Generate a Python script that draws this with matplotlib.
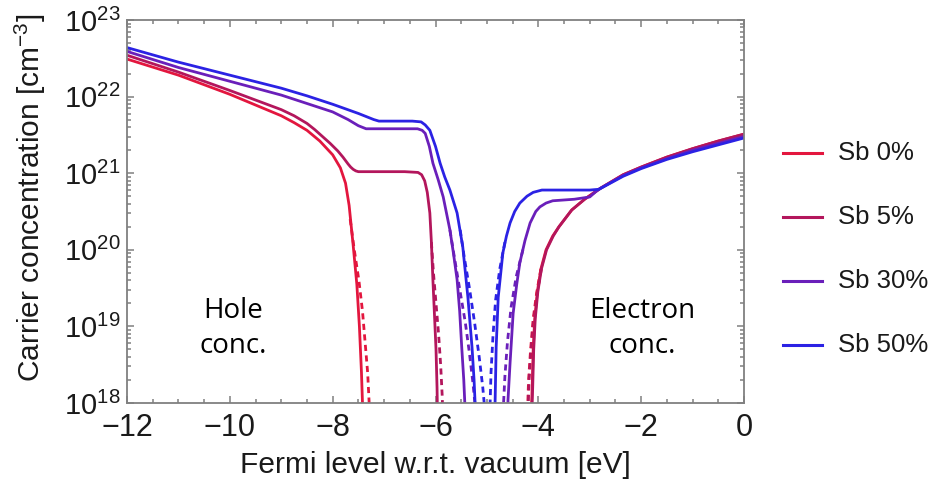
import numpy as np
import matplotlib
matplotlib.use("Agg")
import matplotlib.pyplot as plt
from matplotlib.lines import Line2D
from matplotlib.ticker import MultipleLocator, LogLocator, LogFormatterSciNotation, NullFormatter

plt.rcParams['font.family'] = ['Liberation Sans', 'DejaVu Sans']
plt.rcParams['mathtext.fontset'] = 'custom'
plt.rcParams['mathtext.rm'] = 'Liberation Sans'
plt.rcParams['mathtext.it'] = 'Liberation Sans:italic'

labels = ["Sb 0%", "Sb 5%", "Sb 30%", "Sb 50%"]
colors = ["#e3163e", "#b3165c", "#6a1fba", "#2b22e4"]

# ---- hole concentration (log10 n in cm^-3) vs Fermi level (eV) ----
hole_x = [
    [-12, -11, -10, -9, -8.75, -8.5, -8.25, -8.0, -7.85, -7.75, -7.68, -7.6, -7.53, -7.48, -7.44, -7.41],
    [-12, -11, -10, -9, -8.75, -8.5, -8.35, -8.2, -8.05, -7.9, -7.8, -7.7, -7.65, -7.6, -7.55, -7.5, -7.3,
     -7.0, -6.6, -6.34, -6.27, -6.21, -6.16, -6.11, -6.08, -6.05, -6.02, -5.99, -5.97, -5.96],
    [-12, -11, -10, -9, -8.5, -8.0, -7.7, -7.5, -7.35, -7.0, -6.6, -6.35, -6.26, -6.20, -6.12, -6.05,
     -5.95, -5.85, -5.72, -5.65, -5.58, -5.53, -5.49, -5.45, -5.43, -5.42],
    [-12, -11, -10, -9, -8.5, -8.0, -7.5, -7.2, -7.1, -6.8, -6.45, -6.28, -6.2, -6.11, -6.0, -5.91,
     -5.82, -5.72, -5.65, -5.58, -5.47, -5.37, -5.29, -5.25, -5.23, -5.22],
]
hole_log = [
    [22.49, 22.28, 22.03, 21.75, 21.66, 21.56, 21.42, 21.24, 21.07, 20.87, 20.58, 20.05, 19.55, 19.0, 18.4, 17.8],
    [22.54, 22.32, 22.08, 21.83, 21.75, 21.65, 21.57, 21.48, 21.39, 21.29, 21.21, 21.12, 21.08, 21.05,
     21.03, 21.02, 21.02, 21.02, 21.02, 21.01, 20.98, 20.90, 20.75, 20.48, 20.1, 19.6, 19.15, 18.7, 18.2, 17.8],
    [22.59, 22.38, 22.20, 22.02, 21.91, 21.80, 21.70, 21.62, 21.58, 21.58, 21.58, 21.58, 21.56, 21.52,
     21.35, 21.13, 20.92, 20.69, 20.26, 19.95, 19.61, 19.2, 18.73, 18.3, 18.0, 17.8],
    [22.64, 22.45, 22.28, 22.11, 22.01, 21.90, 21.78, 21.70, 21.68, 21.68, 21.68, 21.67, 21.63, 21.56,
     21.35, 21.13, 20.95, 20.78, 20.63, 20.48, 20.04, 19.38, 18.73, 18.3, 18.0, 17.8],
]

# alternative (dashed) hole curves near the drop-off
hole_dash_x = [
    [-7.66, -7.58, -7.49, -7.42, -7.37, -7.32, -7.29, -7.27],
    [-6.08, -6.04, -5.99, -5.94, -5.90, -5.87, -5.85],
    [-5.72, -5.62, -5.52, -5.42, -5.34, -5.27, -5.22, -5.20],
    [-5.52, -5.44, -5.34, -5.24, -5.15, -5.08, -5.04, -5.02],
]
hole_dash_log = [
    [20.4, 20.0, 19.6, 19.2, 18.8, 18.4, 18.0, 17.7],
    [20.1, 19.7, 19.3, 18.9, 18.5, 18.1, 17.7],
    [20.26, 19.85, 19.45, 19.05, 18.65, 18.25, 17.9, 17.7],
    [20.26, 19.9, 19.5, 19.05, 18.6, 18.2, 17.9, 17.7],
]

# ---- electron concentration ----
elec_x = [
    [-4.14, -4.12, -4.10, -4.07, -4.02, -3.95, -3.85, -3.72, -3.6, -3.35, -3.1, -2.8, -2.35, -2.0, -1.5, -1.0, -0.5, 0],
    [-4.13, -4.11, -4.09, -4.06, -4.01, -3.94, -3.84, -3.71, -3.6, -3.35, -3.1, -2.8, -2.35, -2.0, -1.5, -1.0, -0.5, 0],
    [-4.60, -4.59, -4.55, -4.49, -4.42, -4.36, -4.26, -4.16, -4.05, -3.97, -3.85, -3.72, -3.3, -3.0, -2.88,
     -2.8, -2.35, -2.0, -1.5, -1.0, -0.5, 0],
    [-4.85, -4.84, -4.82, -4.78, -4.69, -4.62, -4.55, -4.46, -4.36, -4.22, -4.10, -3.93, -3.5, -3.0, -2.82,
     -2.35, -2.0, -1.5, -1.0, -0.5, 0],
]
elec_log = [
    [17.8, 18.2, 18.7, 19.1, 19.45, 19.75, 20.0, 20.18, 20.3, 20.52, 20.66, 20.8, 20.98, 21.08, 21.21, 21.32, 21.42, 21.51],
    [17.8, 18.2, 18.7, 19.1, 19.45, 19.75, 20.0, 20.18, 20.3, 20.52, 20.66, 20.8, 20.98, 21.08, 21.21, 21.32, 21.42, 21.51],
    [17.8, 18.04, 18.52, 19.17, 19.55, 19.83, 20.12, 20.35, 20.5, 20.56, 20.61, 20.64, 20.66, 20.69, 20.76,
     20.8, 20.97, 21.07, 21.19, 21.30, 21.39, 21.48],
    [17.8, 18.04, 18.73, 19.38, 19.96, 20.18, 20.35, 20.5, 20.61, 20.70, 20.75, 20.78, 20.78, 20.78, 20.79,
     20.96, 21.06, 21.18, 21.28, 21.37, 21.46],
]

elec_dash_x = [
    [-3.95, -4.03, -4.10, -4.15, -4.19, -4.21, -4.22],
    [-3.94, -4.02, -4.09, -4.14, -4.18, -4.20, -4.21],
    [-4.30, -4.43, -4.53, -4.60, -4.65, -4.68, -4.69],
    [-4.65, -4.75, -4.83, -4.88, -4.92, -4.94, -4.95],
]
elec_dash_log = [
    [19.75, 19.45, 19.1, 18.7, 18.3, 17.9, 17.7],
    [19.75, 19.45, 19.1, 18.7, 18.3, 17.9, 17.7],
    [20.0, 19.65, 19.25, 18.8, 18.35, 17.95, 17.7],
    [20.1, 19.75, 19.35, 18.9, 18.4, 17.95, 17.7],
]

fig = plt.figure(figsize=(9.35, 4.95), dpi=100)
ax = fig.add_axes([127 / 935, 1 - 403 / 495, (744 - 127) / 935, (403 - 20) / 495])

lw = 2.0
dash = (0, (2.2, 1.6))
for i in range(4):
    c = colors[i]
    ax.plot(hole_dash_x[i], 10.0 ** np.array(hole_dash_log[i]), color=c, lw=lw, ls=dash)
    ax.plot(elec_dash_x[i], 10.0 ** np.array(elec_dash_log[i]), color=c, lw=lw, ls=dash)
for i in range(4):
    c = colors[i]
    ax.plot(hole_x[i], 10.0 ** np.array(hole_log[i]), color=c, lw=lw, solid_joinstyle='round')
    ax.plot(elec_x[i], 10.0 ** np.array(elec_log[i]), color=c, lw=lw, solid_joinstyle='round')

ax.set_yscale('log')
ax.set_xlim(-12, 0)
ax.set_ylim(1e18, 1e23)

frame_c = '#808080'
for s in ax.spines.values():
    s.set_color(frame_c)
    s.set_linewidth(1.3)

ax.xaxis.set_major_locator(MultipleLocator(2))
ax.xaxis.set_minor_locator(MultipleLocator(0.5))
ax.yaxis.set_major_locator(LogLocator(base=10, numticks=10))
ax.yaxis.set_minor_locator(LogLocator(base=10, subs=np.arange(2, 10), numticks=20))
ax.yaxis.set_major_formatter(LogFormatterSciNotation())
ax.yaxis.set_minor_formatter(NullFormatter())

ax.tick_params(which='both', direction='in', top=True, right=True, color=frame_c, width=1.1)
ax.tick_params(which='major', length=5)
ax.tick_params(which='minor', length=3)
ax.tick_params(axis='x', which='major', labelsize=22, pad=7, labelcolor='#1a1a1a')
ax.tick_params(axis='y', which='major', labelsize=21, pad=5, labelcolor='#1a1a1a')

ax.set_xlabel('Fermi level w.r.t. vacuum [eV]', fontsize=21.5, color='#1a1a1a', labelpad=6)
ax.set_ylabel(r'Carrier concentration [cm$^{\mathregular{-3}}$]', fontsize=21.5, color='#1a1a1a')
ax.yaxis.set_label_coords(-0.128, 0.535)

# region annotations
ax.text(-9.94, 10 ** 18.97, 'Hole\nconc.', ha='center', va='center', fontsize=20,
        family=['Open Sans', 'DejaVu Sans'], linespacing=1.35, color='black')
ax.text(-1.98, 10 ** 18.97, 'Electron\nconc.', ha='center', va='center', fontsize=20,
        family=['Open Sans', 'DejaVu Sans'], linespacing=1.35, color='black')

# legend at the right
leg_y = [153, 217, 281, 345]
for lab, c, yp in zip(labels, colors, leg_y):
    yf = 1 - yp / 495
    fig.add_artist(Line2D([783 / 935, 822 / 935], [yf, yf], color=c, lw=2.2))
    fig.text(838 / 935, yf, lab, fontsize=18.5, va='center', ha='left', color='#1a1a1a')

fig.savefig('out.png', dpi=100)
